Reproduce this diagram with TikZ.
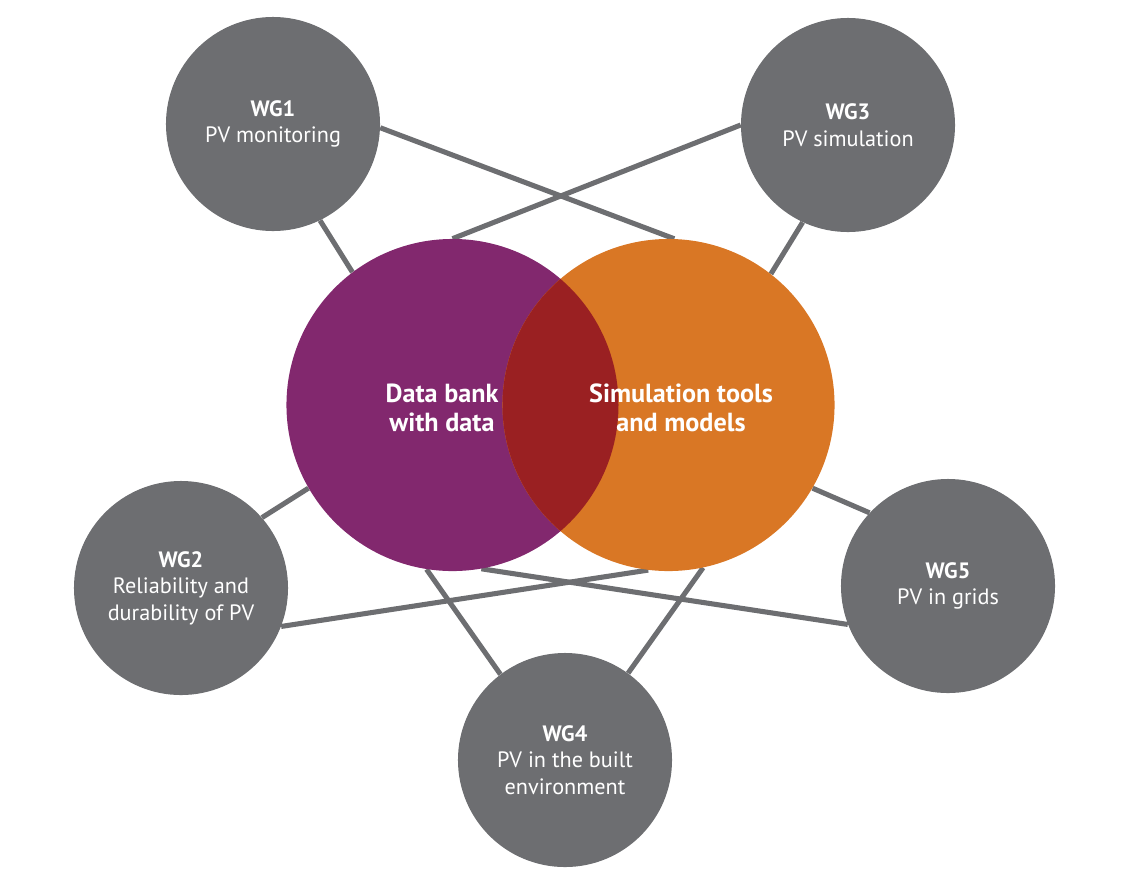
\documentclass[tikz,border=0pt]{standalone}
\usepackage{fontspec}
\setmainfont{PT Sans}
\usetikzlibrary{backgrounds}
\definecolor{wggray}{HTML}{6D6E71}
\definecolor{bankpurple}{HTML}{82286E}
\definecolor{simorange}{HTML}{D97725}
\definecolor{overlapred}{HTML}{9A2022}
\tikzset{
  wg/.style={circle,fill=wggray,minimum size=5.35cm,inner sep=0pt,text=white,align=center,
    font=\fontsize{15.8}{18.9}\selectfont},
  big/.style={circle,minimum size=8.3cm,inner sep=0pt},
  biglabel/.style={text=white,align=center,font=\bfseries\fontsize{18.6}{20.6}\selectfont},
  link/.style={draw=wggray,line width=3.6pt}
}
\begin{document}
\begin{tikzpicture}[x=0.025cm,y=-0.025cm]
\useasboundingbox (0,0) rectangle (1132,883);
\node[big,fill=bankpurple] (bank) at (452.5,405) {};
\node[big,fill=simorange] (sim) at (668.5,405) {};
\begin{scope}
\clip (bank.center) circle[radius=166];
\fill[overlapred] (sim.center) circle[radius=166];
\end{scope}
\node[biglabel] (banklabel) at (442,408) {Data bank\\with data};
\node[biglabel] (simlabel) at (681,408) {Simulation tools\\and models};
\node[wg] (wg1) at (273,124) {\textbf{WG1}\\PV monitoring};
\node[wg] (wg3) at (848,125) {\textbf{WG3}\\PV simulation};
\node[wg] (wg2) at (181,588) {\textbf{WG2}\\Reliability and\\durability of PV};
\node[wg] (wg5) at (948,586) {\textbf{WG5}\\PV in grids};
\node[wg] (wg4) at (565,760) {\textbf{WG4}\\PV in the built\\environment};
\begin{scope}[on background layer]
\foreach \a/\b in {wg1.-64/bank.127,wg1.-2/sim.88,wg3.180/bank.90,wg3.-115/sim.52,
  wg2.41/bank.-150,wg2.-21/sim.-97,wg4.127/bank.-99,wg4.54/sim.-78,
  wg5.-159/bank.-80,wg5.137/sim.-30}
\draw[link] (\a) -- (\b);
\end{scope}
\end{tikzpicture}
\end{document}
